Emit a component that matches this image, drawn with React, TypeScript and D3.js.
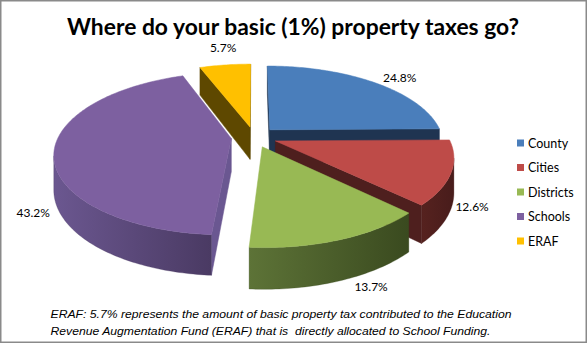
import React, { useEffect, useRef } from 'react';
import * as d3 from 'd3';

// data
const categories = ['County', 'Cities', 'Districts', 'Schools', 'ERAF'];
const shares = [24.8, 12.6, 13.7, 43.2, 5.7];
const valueLabels = ['24.8%', '12.6%', '13.7%', '43.2%', '5.7%'];

const title = 'Where do your basic (1%) property taxes go?';
const footnote = [
  'ERAF: 5.7% represents the amount of basic property tax contributed to the Education',
  'Revenue Augmentation Fund (ERAF) that is  directly allocated to School Funding.',
];

// styles
const topColors = ['#4A7EBB', '#BE4B48', '#98B954', '#7D60A0', '#FFC000'];
const wallLight = ['#233A5B', '#56221F', '#5D7337', '#6B5790', '#654E00'];
const wallDark = ['#1C2F4B', '#481C1B', '#3A4A1F', '#4A3A63', '#5A4500'];
const cutColors = ['#1F3451', '#4E1F1E', '#46592A', '#6A5791', '#5E4800'];
// label nudges from the rim point (px)
const labelNudge: [number, number][] = [[26, -5], [21, 34], [31, 47], [-21, 62], [-2, -17]];
const footWidths = [461, 440];

const W = 587;
const H = 343;
const CX = 254;
const CY = 137;
const RX = 173;
const RY = 78;
const DEPTH = 33;
const PERSP = 0.185;
const EXPLODE = 0.132;

const project = (xw: number, yw: number, zd: number): [number, number] => {
  const s = 1 / (1 + PERSP * yw);
  return [CX + RX * xw * s, CY + (-RY * yw + DEPTH * zd) * s];
};

const area = (pts: [number, number][]) => {
  let a = 0;
  for (let i = 0; i < pts.length; i++) {
    const p = pts[i];
    const q = pts[(i + 1) % pts.length];
    a += p[0] * q[1] - q[0] * p[1];
  }
  return a / 2;
};

const App = () => {
  const svgRef = useRef<SVGSVGElement | null>(null);

  useEffect(() => {
    const svg = d3.select(svgRef.current);
    svg.selectAll('*').remove();

    svg.append('rect')
      .attr('x', 0.75).attr('y', 0.75)
      .attr('width', W - 1.5).attr('height', H - 1.5)
      .attr('fill', '#fff')
      .attr('stroke', '#8A8A8A')
      .attr('stroke-width', 1.5);

    svg.append('text')
      .attr('x', 293).attr('y', 26)
      .attr('text-anchor', 'middle')
      .attr('dominant-baseline', 'central')
      .attr('font-family', 'Lato, "Open Sans", sans-serif')
      .attr('font-weight', 'bold')
      .attr('font-size', 23)
      .attr('textLength', 452)
      .attr('lengthAdjust', 'spacingAndGlyphs')
      .attr('fill', '#000')
      .text(title);

    const defs = svg.append('defs');
    categories.forEach((c, i) => {
      const g = defs.append('linearGradient')
        .attr('id', `wall-${i}`)
        .attr('x1', 0).attr('y1', 0).attr('x2', 1).attr('y2', 0);
      g.append('stop').attr('offset', '0%').attr('stop-color', wallLight[i]);
      g.append('stop').attr('offset', '100%').attr('stop-color', wallDark[i]);
    });

    const arcs = d3.pie<number>().sort(null).startAngle(0).endAngle(2 * Math.PI)(shares);

    const slices = arcs.map((a, i) => {
      const mid = (a.startAngle + a.endAngle) / 2;
      const ox = EXPLODE * Math.sin(mid);
      const oy = EXPLODE * Math.cos(mid);
      const rim = (t: number, zd: number) => project(ox + Math.sin(t), oy + Math.cos(t), zd);
      const apex = (zd: number) => project(ox, oy, zd);
      const n = Math.max(2, Math.ceil((a.endAngle - a.startAngle) / (Math.PI / 180)));
      const ts = d3.range(n + 1).map(k => a.startAngle + (a.endAngle - a.startAngle) * k / n);
      return { i, mid, rim, apex, ts, a };
    });

    const line = d3.line<[number, number]>();
    const g = svg.append('g');

    // walls, back to front
    const order = [...slices].sort((p, q) => Math.cos(q.mid) - Math.cos(p.mid));
    order.forEach(sl => {
      const { i, rim, apex, ts, a } = sl;
      // cut faces
      const startQ = [apex(0), rim(a.startAngle, 0), rim(a.startAngle, 1), apex(1)];
      if (area(startQ) < 0) {
        g.append('path').attr('d', line(startQ) + 'Z')
          .attr('fill', cutColors[i]).attr('stroke', cutColors[i]).attr('stroke-width', 0.5);
      }
      const endQ = [apex(0), rim(a.endAngle, 0), rim(a.endAngle, 1), apex(1)];
      if (area(endQ) > 0) {
        g.append('path').attr('d', line(endQ) + 'Z')
          .attr('fill', cutColors[i]).attr('stroke', cutColors[i]).attr('stroke-width', 0.5);
      }
      // outer wall, visible runs
      const vis = d3.range(ts.length - 1).map(k => {
        const q = [rim(ts[k], 0), rim(ts[k + 1], 0), rim(ts[k + 1], 1), rim(ts[k], 1)];
        return area(q) < 0;
      });
      let k = 0;
      while (k < vis.length) {
        if (!vis[k]) { k++; continue; }
        let e = k;
        while (e < vis.length && vis[e]) e++;
        const seg = ts.slice(k, e + 1);
        const pts = [...seg.map(t => rim(t, 0)), ...seg.slice().reverse().map(t => rim(t, 1))];
        g.append('path').attr('d', line(pts) + 'Z')
          .attr('fill', `url(#wall-${i})`).attr('stroke', wallDark[i]).attr('stroke-width', 0.3);
        k = e;
      }
    });

    // top faces
    slices.forEach(sl => {
      const pts = [sl.apex(0), ...sl.ts.map(t => sl.rim(t, 0))];
      g.append('path').attr('d', line(pts) + 'Z')
        .attr('fill', topColors[sl.i]).attr('stroke', topColors[sl.i]).attr('stroke-width', 0.5);
    });

    // value labels
    slices.forEach(sl => {
      const [x, y] = sl.rim(sl.mid, 0);
      svg.append('text')
        .attr('x', x + labelNudge[sl.i][0])
        .attr('y', y + labelNudge[sl.i][1])
        .attr('text-anchor', 'middle')
        .attr('dominant-baseline', 'central')
        .attr('font-family', 'Lato, "Open Sans", sans-serif')
        .attr('font-size', 12)
        .attr('fill', '#000')
        .text(valueLabels[sl.i]);
    });

    // legend
    const ly = d3.scalePoint<string>().domain(categories).range([143, 241]);
    const leg = svg.append('g');
    categories.forEach((c, i) => {
      const y = ly(c) as number;
      leg.append('rect')
        .attr('x', 517).attr('y', y - 3.5)
        .attr('width', 7).attr('height', 7)
        .attr('fill', topColors[i]);
      leg.append('text')
        .attr('x', 528).attr('y', y)
        .attr('dominant-baseline', 'central')
        .attr('font-family', 'Lato, "Open Sans", sans-serif')
        .attr('font-size', 12.5)
        .attr('fill', '#000')
        .text(c);
    });

    // footnote
    footnote.forEach((t, i) => {
      svg.append('text')
        .attr('x', 50.5).attr('y', 313.5 + i * 16.5)
        .attr('dominant-baseline', 'central')
        .attr('font-family', '"Liberation Sans", Arial, sans-serif')
        .attr('font-style', 'italic')
        .attr('font-size', 11.6)
        .attr('textLength', footWidths[i])
        .attr('lengthAdjust', 'spacingAndGlyphs')
        .attr('fill', '#000')
        .style('white-space', 'pre')
        .text(t);
    });
  }, []);

  return (
    <svg ref={svgRef} width={W} height={H}
      style={{ position: 'absolute', left: 0, top: 0, display: 'block' }} />
  );
};

export default App;
